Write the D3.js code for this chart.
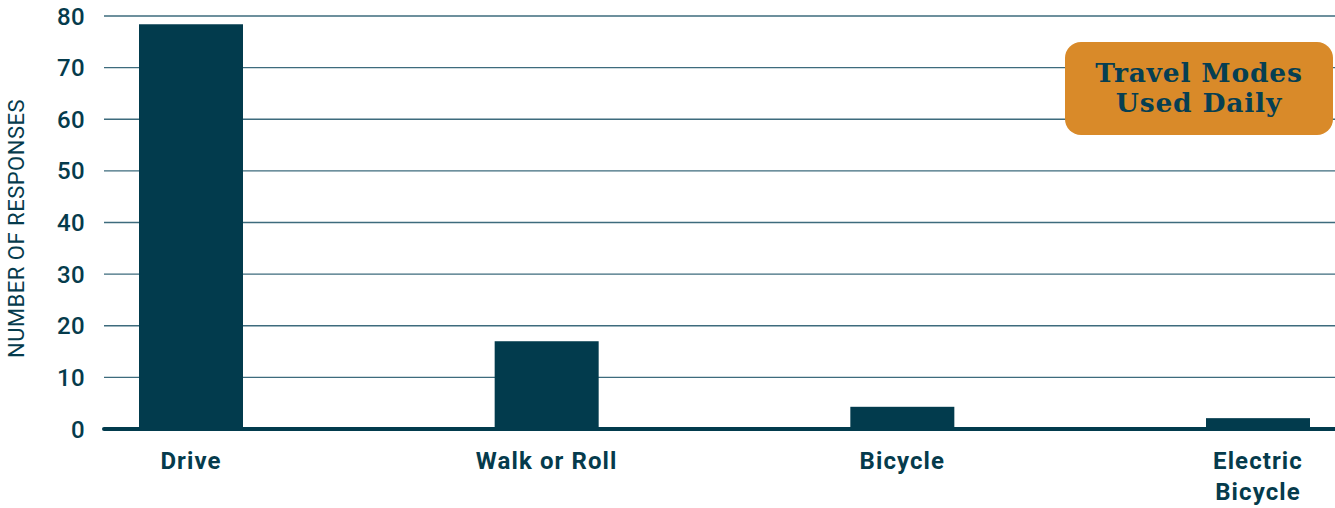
<!DOCTYPE html>
<html>
<head>
<meta charset="utf-8">
<script src="https://cdn.jsdelivr.net/npm/d3@7"></script>
<style>
  body { margin: 0; background: #fff; }
  svg text { fill: #053b4c; }
</style>
</head>
<body>
<script>
const modes = ['Drive', 'Walk or Roll', 'Bicycle', 'Electric Bicycle']
const responses = [78.4, 17, 4.3, 2.1]
const yTicks = [0, 10, 20, 30, 40, 50, 60, 70, 80]
const title = ['Travel Modes', 'Used Daily']

const width = 1335
const height = 508
const dark = '#023b4d'
const sans = 'Roboto, "DejaVu Sans", sans-serif'

let svg = d3.select('body')
  .append('svg')
  .attr('width', width)
  .attr('height', height)

let x = d3.scalePoint()
  .domain(modes)
  .range([191, 1258])

let y = d3.scaleLinear()
  .domain([0, 80])
  .range([429, 16])

// gridlines
svg.append('g')
  .selectAll('line')
  .data(yTicks.filter(d => d > 0))
  .join('line')
  .attr('x1', 104)
  .attr('x2', width)
  .attr('y1', d => y(d))
  .attr('y2', d => y(d))
  .attr('stroke', '#3d6b7d')
  .attr('stroke-width', 1.3)

// tick labels
svg.append('g')
  .selectAll('text')
  .data(yTicks)
  .join('text')
  .attr('x', 85)
  .attr('y', d => y(d) + 8.5)
  .attr('text-anchor', 'end')
  .style('font-family', sans)
  .style('font-size', '24px')
  .style('font-weight', 500)
  .style('letter-spacing', '0.3px')
  .text(d => d)

// bars
const barW = 104
svg.append('g')
  .selectAll('rect')
  .data(responses)
  .join('rect')
  .attr('x', (d, i) => x(modes[i]) - barW / 2)
  .attr('y', d => y(d))
  .attr('width', barW)
  .attr('height', d => y(0) - y(d))
  .attr('fill', dark)

// baseline
svg.append('line')
  .attr('x1', 104)
  .attr('x2', width)
  .attr('y1', y(0))
  .attr('y2', y(0))
  .attr('stroke', dark)
  .attr('stroke-width', 4)
  .attr('stroke-linecap', 'round')

// category labels
const xLabel = {'Electric Bicycle': ['Electric', 'Bicycle']}
svg.append('g')
  .selectAll('text')
  .data(modes)
  .join('text')
  .attr('x', d => x(d))
  .attr('y', 469)
  .attr('text-anchor', 'middle')
  .style('font-family', sans)
  .style('font-size', '24px')
  .style('font-weight', 700)
  .style('letter-spacing', '1.1px')
  .each(function (d) {
    const lines = xLabel[d] || [d]
    d3.select(this)
      .selectAll('tspan')
      .data(lines)
      .join('tspan')
      .attr('x', x(d))
      .attr('dy', (l, i) => i === 0 ? 0 : 31)
      .text(l => l)
  })

// y axis title
svg.append('text')
  .attr('transform', 'translate(24, 228.5) rotate(-90)')
  .attr('text-anchor', 'middle')
  .style('font-family', sans)
  .style('font-size', '22px')
  .style('letter-spacing', '0.5px')
  .text('NUMBER OF RESPONSES')

// title badge
svg.append('rect')
  .attr('x', 1065)
  .attr('y', 42)
  .attr('width', 268)
  .attr('height', 93)
  .attr('rx', 16)
  .attr('fill', '#d98a29')

svg.append('g')
  .selectAll('text')
  .data(title)
  .join('text')
  .attr('x', 1199)
  .attr('y', (d, i) => 82 + i * 30)
  .attr('text-anchor', 'middle')
  .style('font-family', '"DejaVu Serif", serif')
  .style('font-weight', 700)
  .style('font-size', '26.5px')
  .style('letter-spacing', '0.8px')
  .style('fill', '#063f52')
  .text(d => d)
</script>
</body>
</html>
